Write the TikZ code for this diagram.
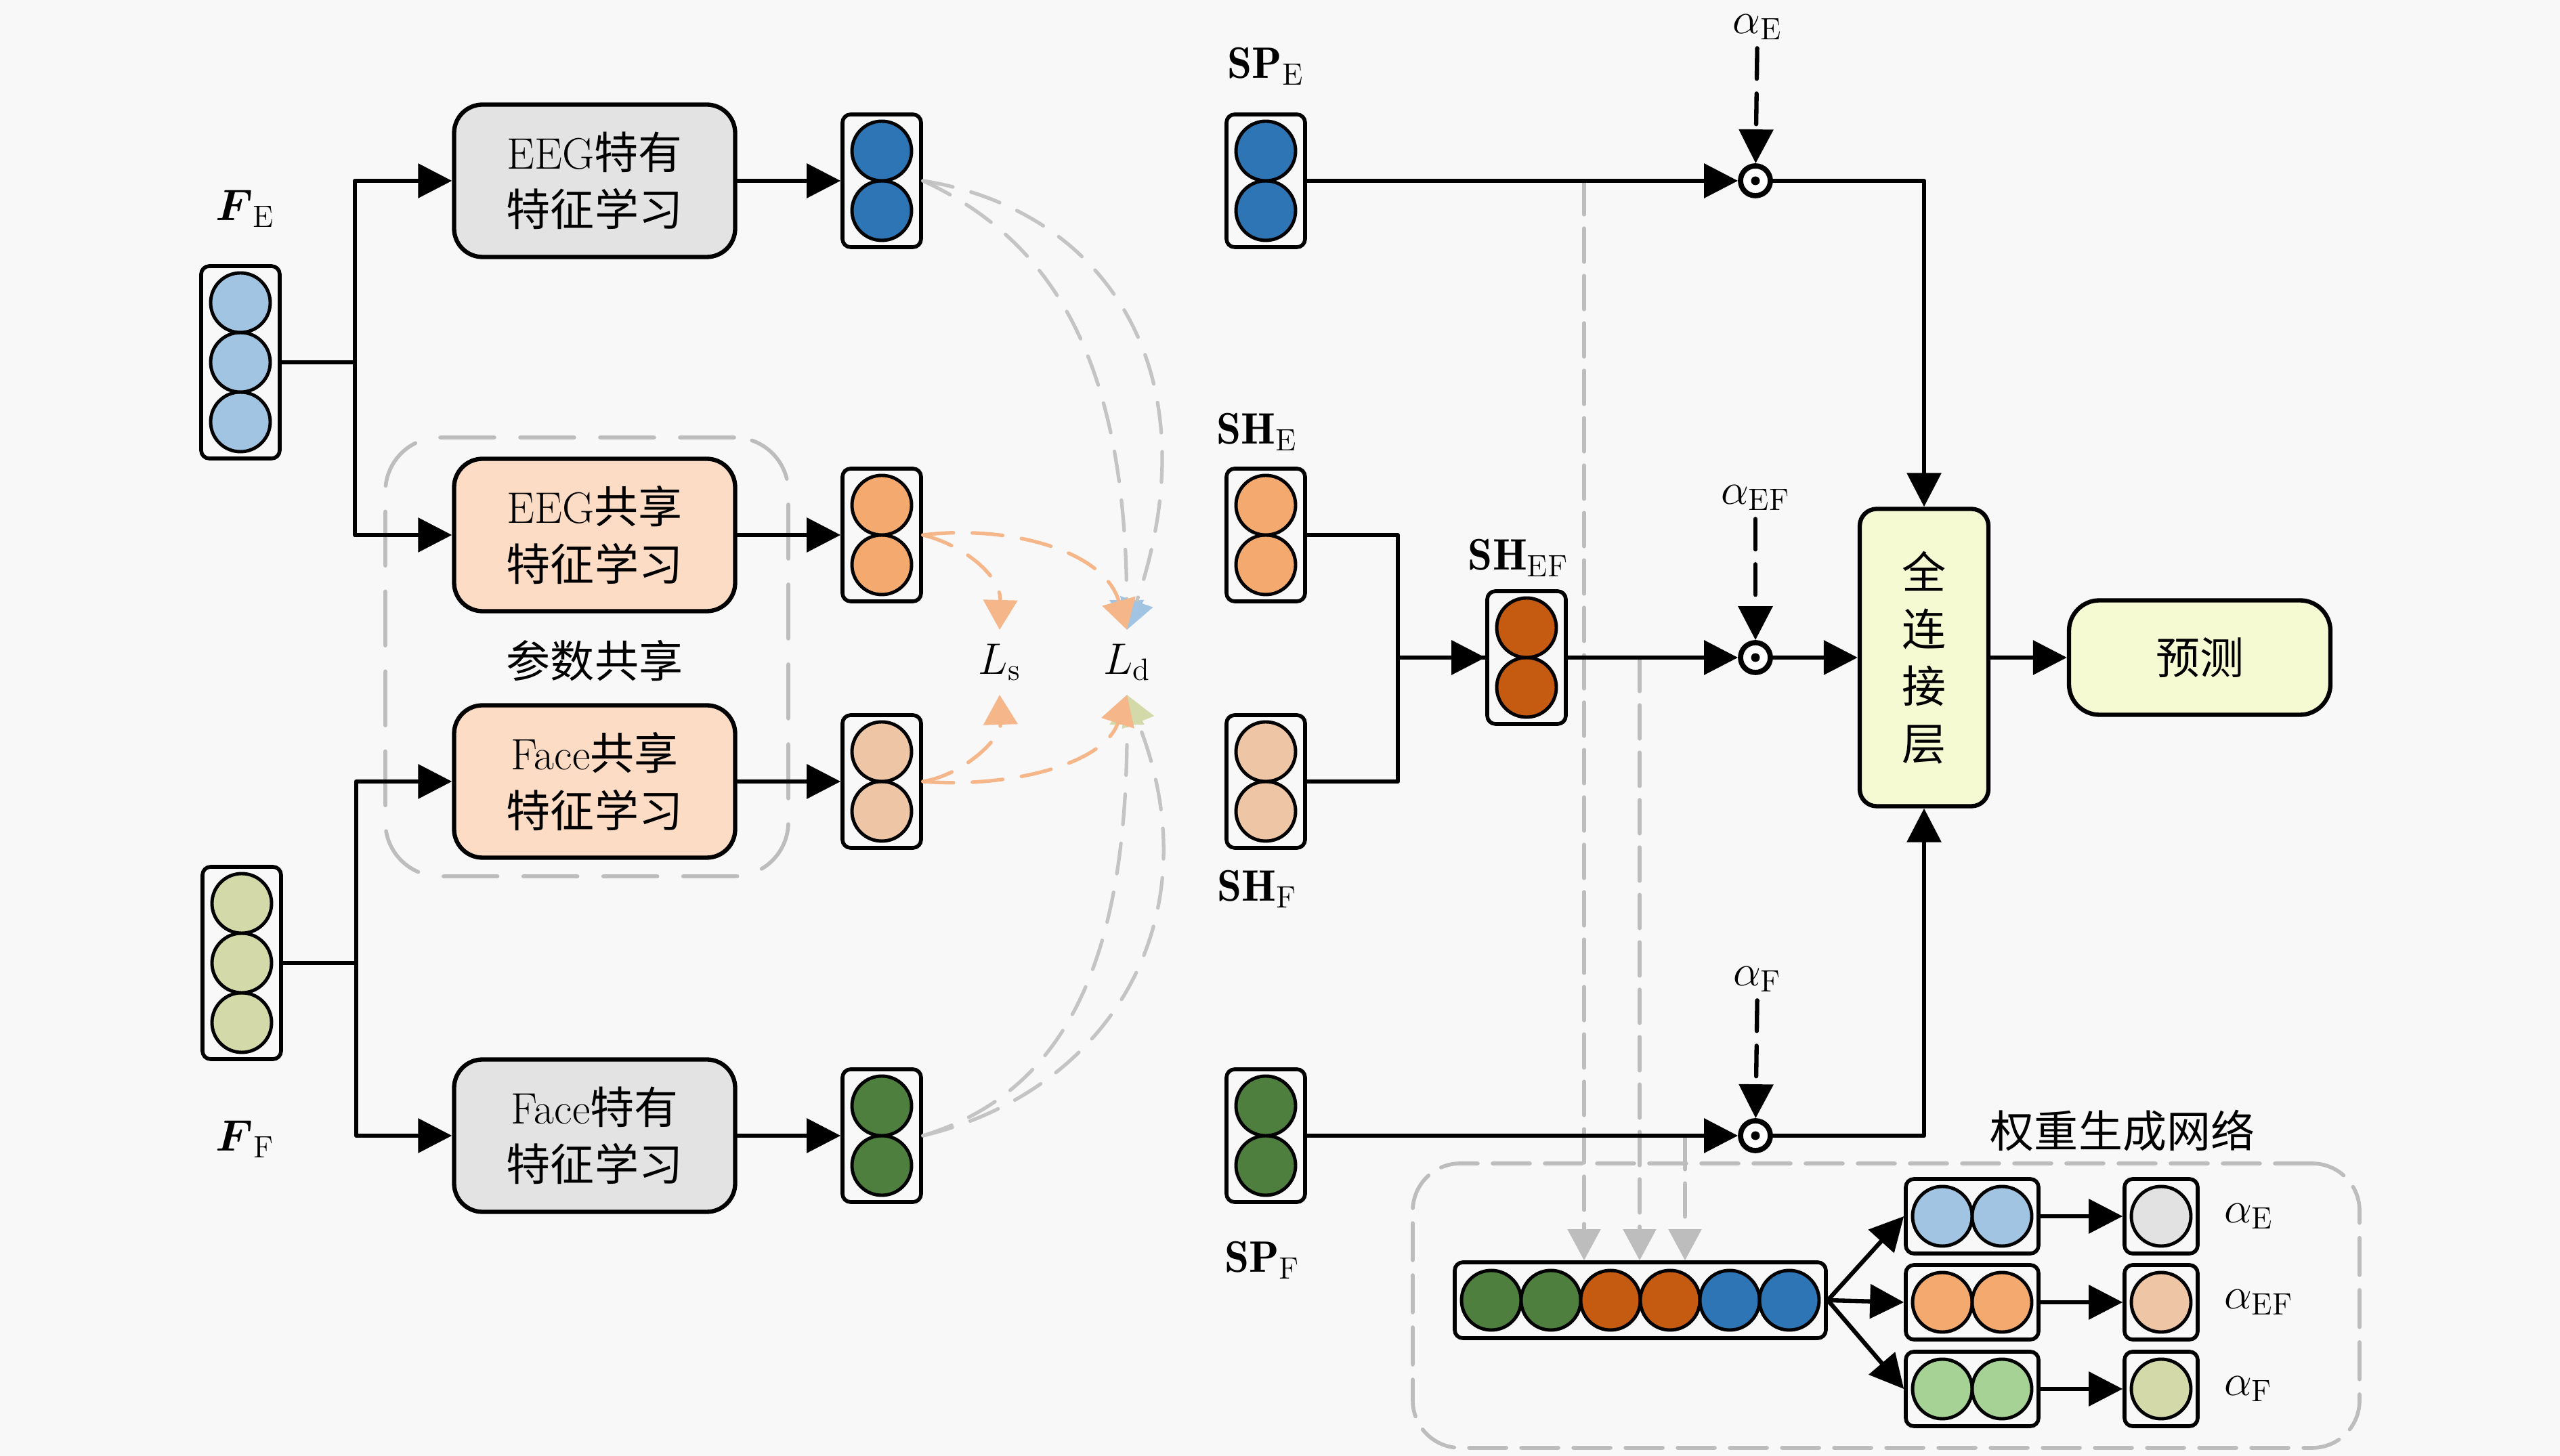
\RequirePackage{fix-cm}
\documentclass[tikz,border=0pt]{standalone}
\usepackage{amsmath, amssymb}
\usepackage{fontspec}
\newfontfamily\cjk{Noto Sans CJK SC}
\usetikzlibrary{arrows.meta}

\begin{document}
\begin{tikzpicture}[>={Triangle[length=5mm, width=5mm]}, line cap=round, line join=round,
    font=\fontsize{18.5}{24}\selectfont,
    learnbox/.style={draw, line width=1.8pt, rounded corners=0.42cm, minimum width=4.15cm,
      minimum height=2.25cm, align=center},
    featbox/.style={draw, line width=1.6pt, rounded corners=0.12cm, inner sep=0pt},
    cell/.style={draw, line width=1.4pt},
    link/.style={line width=1.8pt},
    alphaline/.style={line width=1.8pt, dash pattern=on 0.45cm off 0.22cm},
    prodnode/.style={circle, draw, line width=2.2pt, fill=white, minimum size=0.44cm, inner sep=0pt},
    groupbox/.style={draw=groupgray, line width=1.6pt},
    lossline/.style={line width=1.5pt, dash pattern=on 0.45cm off 0.28cm},
    tapline/.style={draw=groupgray, line width=1.5pt, dash pattern=on 0.5cm off 0.2cm,
      -{Triangle[length=4.6mm, width=4.8mm, color=groupgray]}},
  ]
    \definecolor{bggray}{HTML}{F8F8F8}
    \definecolor{specgray}{HTML}{E3E3E3}
    \definecolor{sharepeach}{HTML}{FDDCC6}
    \definecolor{fcyellow}{HTML}{F6FAD2}
    \definecolor{groupgray}{HTML}{BDBDBD}
    \definecolor{lossgray}{HTML}{C4C4C4}
    \definecolor{lossorange}{HTML}{F5B68A}
    \definecolor{inblue}{HTML}{A1C4E3}
    \definecolor{eegblue}{HTML}{2E75B6}
    \definecolor{eegorange}{HTML}{F4AA6E}
    \definecolor{facepeach}{HTML}{EEC6A6}
    \definecolor{facegreen}{HTML}{4F7F3E}
    \definecolor{inolive}{HTML}{D3D9A9}
    \definecolor{fuseorange}{HTML}{C55A11}
    \definecolor{lightgreen}{HTML}{A6D295}
    \definecolor{outgray}{HTML}{E2E2E2}

    \useasboundingbox (0, 0) rectangle (37.8, 21.5);
    \fill[bggray] (0, 0) rectangle (37.8, 21.5);

    % --- the two dashed groups
    \node[groupbox, dash pattern=on 0.8cm off 0.38cm, rounded corners=0.8cm,
      minimum width=5.95cm, minimum height=6.48cm] (share) at (8.665, 11.80) {};
    \node (sharetxt) at (8.78, 11.74) {\cjk 参数共享};
    \node[groupbox, dash pattern=on 0.55cm off 0.22cm, rounded corners=0.7cm,
      minimum width=13.98cm, minimum height=4.2cm] (wnet) at (27.85, 2.22) {};
    \node (wnettxt) at (31.34, 4.80) {\cjk 权重生成网络};

    % --- learning blocks
    \node[learnbox, fill=specgray] (eegsp) at (8.78, 18.83) {EEG{\cjk 特有}\\{\cjk 特征学习}};
    \node[learnbox, fill=sharepeach] (eegsh) at (8.78, 13.60) {EEG{\cjk 共享}\\{\cjk 特征学习}};
    \node[learnbox, fill=sharepeach] (facesh) at (8.78, 9.96) {Face{\cjk 共享}\\{\cjk 特征学习}};
    \node[learnbox, fill=specgray] (facesp) at (8.78, 4.73) {Face{\cjk 特有}\\{\cjk 特征学习}};

    % --- fully connected layer and prediction
    \node[draw, line width=1.8pt, rounded corners=0.25cm, fill=fcyellow, minimum width=1.9cm,
      minimum height=4.39cm, align=center] (fc) at (28.41, 11.79)
      {{\cjk 全}\\{\cjk 连}\\{\cjk 接}\\{\cjk 层}};
    \node[draw, line width=1.8pt, rounded corners=0.45cm, fill=fcyellow, minimum width=3.86cm,
      minimum height=1.69cm] (pred) at (32.48, 11.79) {\cjk 预测};

    % --- gray taps into the weight network
    \coordinate (tapE) at (23.39, 18.83);
    \coordinate (tapEF) at (24.21, 11.79);
    \coordinate (tapF) at (24.88, 4.73);

    % --- vertical feature vectors: name / x / y / colour / cells
    \foreach \name/\x/\y/\col/\n in {fe/3.55/16.15/inblue/3, ff/3.57/7.28/inolive/3,
        pe/13.02/18.83/eegblue/2, se/13.02/13.60/eegorange/2,
        sf/13.02/9.96/facepeach/2, pf/13.02/4.73/facegreen/2,
        spe/18.69/18.83/eegblue/2, she/18.69/13.60/eegorange/2,
        shf/18.69/9.96/facepeach/2, spf/18.69/4.73/facegreen/2,
        shef/22.54/11.79/fuseorange/2} {
      \node[featbox, minimum width=1.16cm, minimum height={\n*0.88cm+0.2cm}] (\name) at (\x, \y) {};
      \foreach \k in {1, ..., \n}
        \draw[cell, fill=\col] (\x, {\y+(\k-(\n+1)/2)*0.88}) circle (0.44);
    }

    % --- horizontal vectors in the weight network
    \foreach \name/\x/\y/\col/\n in {wE/29.12/3.54/inblue/2, wEF/29.12/2.27/eegorange/2,
        wF/29.12/0.99/lightgreen/2, oE/31.91/3.54/outgray/1, oEF/31.91/2.27/facepeach/1,
        oF/31.91/0.99/inolive/1} {
      \node[featbox, minimum width={\n*0.88cm+0.2cm}, minimum height=1.1cm] (\name) at (\x, \y) {};
      \foreach \k in {1, ..., \n}
        \draw[cell, fill=\col] ({\x+(\k-(\n+1)/2)*0.88}, \y) circle (0.44);
    }
    \node[featbox, minimum width=5.48cm, minimum height=1.12cm] (cat) at (24.22, 2.30) {};
    \foreach \col [count=\k] in {facegreen, facegreen, fuseorange, fuseorange, eegblue, eegblue}
      \draw[cell, fill=\col] ({24.22+(\k-3.5)*0.88}, 2.30) circle (0.44);

    % --- labels
    \node (lfe) at (3.62, 18.42) {$\boldsymbol{F}_{\mathrm{E}}$};
    \node (lff) at (3.62, 4.68) {$\boldsymbol{F}_{\mathrm{F}}$};
    \node (lspe) at (18.69, 20.52) {$\mathbf{SP}_{\mathrm{E}}$};
    \node (lshe) at (18.56, 15.12) {$\mathbf{SH}_{\mathrm{E}}$};
    \node (lshf) at (18.56, 8.37) {$\mathbf{SH}_{\mathrm{F}}$};
    \node (lshef) at (22.42, 13.26) {$\mathbf{SH}_{\mathrm{EF}}$};
    \node (lspf) at (18.64, 2.89) {$\mathbf{SP}_{\mathrm{F}}$};
    \node[inner sep=0.2cm] (Ls) at (14.76, 11.72) {$L_{\mathrm{s}}$};
    \node[inner sep=0.2cm] (Ld) at (16.64, 11.72) {$L_{\mathrm{d}}$};
    \node (aE) at (25.95, 21.1) {$\alpha_{\mathrm{E}}$};
    \node (aEF) at (25.92, 14.15) {$\alpha_{\mathrm{EF}}$};
    \node (aF) at (25.95, 7.04) {$\alpha_{\mathrm{F}}$};
    \node[anchor=west] (lE) at (32.72, 3.54) {$\alpha_{\mathrm{E}}$};
    \node[anchor=west] (lEF) at (32.72, 2.27) {$\alpha_{\mathrm{EF}}$};
    \node[anchor=west] (lF) at (32.72, 0.99) {$\alpha_{\mathrm{F}}$};

    % --- loss connections
    \draw[lossline, draw=lossgray, -{Triangle[length=4.4mm, width=5mm, color=inblue]}]
      (pe.east) .. controls +(1.9, -0.88) and +(-0.02, 4.0) .. (Ld.north);
    \draw[lossline, draw=lossgray, -{Triangle[length=4.4mm, width=5mm, color=inblue]}]
      (pe.east) .. controls +(2.7, -0.43) and +(1.3, 3.8) .. (Ld.north);
    \draw[lossline, draw=lossgray, -{Triangle[length=4.4mm, width=5mm, color=inolive]}]
      (pf.east) .. controls +(2.2, 0.67) and +(0.01, -3.75) .. (Ld.south);
    \draw[lossline, draw=lossgray, -{Triangle[length=4.4mm, width=5mm, color=inolive]}]
      (pf.east) .. controls +(2.8, 0.67) and +(1.3, -3.25) .. (Ld.south);
    \draw[lossline, draw=lossorange, -{Triangle[length=4.4mm, width=5mm, color=lossorange]}]
      (se.east) .. controls +(0.6, -0.15) and +(0.02, 0.8) .. (Ls.north);
    \draw[lossline, draw=lossorange, -{Triangle[length=4.4mm, width=5mm, color=lossorange]}]
      (se.east) .. controls +(1.2, 0.15) and +(-0.34, 1.2) .. (Ld.north);
    \draw[lossline, draw=lossorange, -{Triangle[length=4.4mm, width=5mm, color=lossorange]}]
      (sf.east) .. controls +(0.6, 0.1) and +(0.02, -0.65) .. (Ls.south);
    \draw[lossline, draw=lossorange, -{Triangle[length=4.4mm, width=5mm, color=lossorange]}]
      (sf.east) .. controls +(1.2, -0.1) and +(-0.34, -1.05) .. (Ld.south);

    % --- left branches
    \draw[link, ->] (fe.east) -- ++(1.08, 0) |- (eegsp.west);
    \draw[link, ->] (fe.east) -- ++(1.08, 0) |- (eegsh.west);
    \draw[link, ->] (ff.east) -- ++(1.08, 0) |- (facesh.west);
    \draw[link, ->] (ff.east) -- ++(1.08, 0) |- (facesp.west);
    \foreach \a/\b in {eegsp/pe, eegsh/se, facesh/sf, facesp/pf}
      \draw[link, ->] (\a) -- (\b);

    % --- gray taps
    \foreach \t in {tapE, tapEF, tapF}
      \draw[tapline] (\t) -- (\t |- cat.north);

    % --- weighting and fusion
    \node[prodnode] (mE) at (25.92, 18.83) {};
    \node[prodnode] (mEF) at (25.92, 11.79) {};
    \node[prodnode] (mF) at (25.92, 4.73) {};
    \foreach \m in {mE, mEF, mF}
      \fill (\m) circle (0.065);
    \draw[link, ->] (she.east) -- ++(1.34, 0) |- (shef.west);
    \draw[link] (shf.east) -- ++(1.34, 0) |- (shef.west);
    \draw[link, ->] (spe) -- (mE);
    \draw[link, ->] (shef) -- (mEF);
    \draw[link, ->] (spf) -- (mF);
    \draw[alphaline, ->] (aE) -- (mE);
    \draw[alphaline, ->] (aEF) -- (mEF);
    \draw[alphaline, ->] (aF) -- (mF);
    \draw[link, ->] (mE) -| (fc.north);
    \draw[link, ->] (mEF) -- (fc);
    \draw[link, ->] (mF) -| (fc.south);
    \draw[link, ->] (fc) -- (pred);

    % --- weight generation
    \foreach \w/\o in {wE/oE, wEF/oEF, wF/oF} {
      \draw[link, ->] (cat.east) -- (\w.west);
      \draw[link, ->] (\w) -- (\o);
    }
\end{tikzpicture}
\end{document}
